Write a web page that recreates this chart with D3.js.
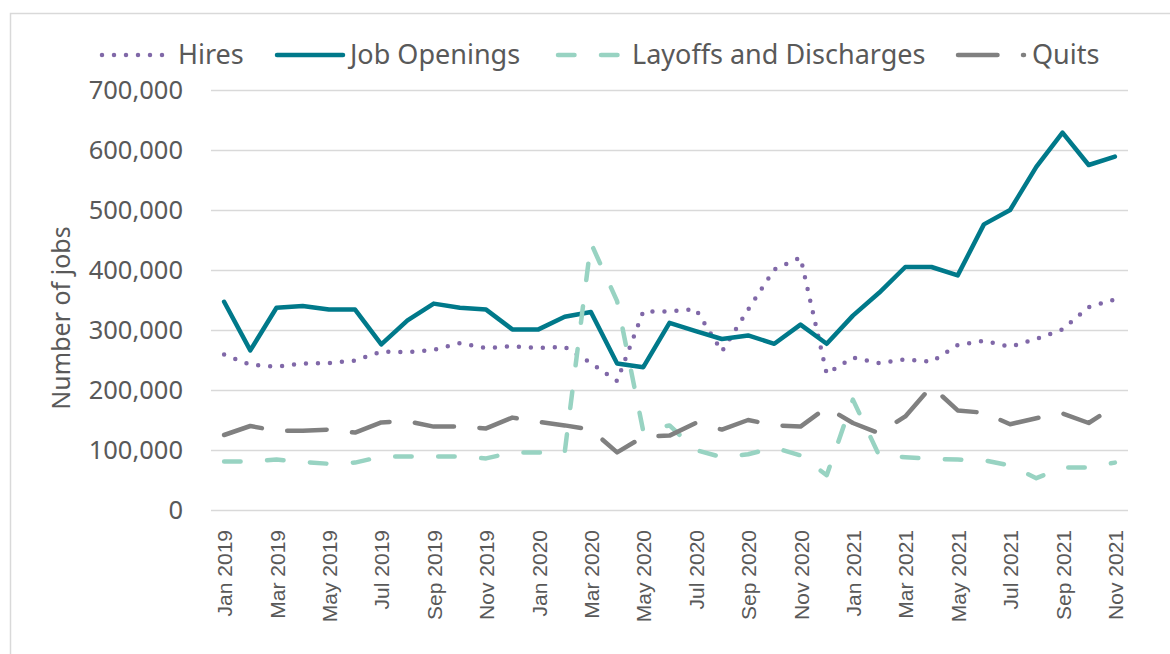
<!DOCTYPE html>
<html>
<head>
<meta charset="utf-8">
<script src="https://cdn.jsdelivr.net/npm/d3@7"></script>
<style>
  html, body { margin: 0; padding: 0; background: #fff; }
  svg { display: block; }
</style>
</head>
<body>
<div id="chart"></div>
<script>
// Monthly values, in thousands of jobs
const months = [
  'Jan 2019', 'Feb 2019', 'Mar 2019', 'Apr 2019', 'May 2019', 'Jun 2019', 'Jul 2019', 'Aug 2019', 'Sep 2019', 'Oct 2019', 'Nov 2019', 'Dec 2019',
  'Jan 2020', 'Feb 2020', 'Mar 2020', 'Apr 2020', 'May 2020', 'Jun 2020', 'Jul 2020', 'Aug 2020', 'Sep 2020', 'Oct 2020', 'Nov 2020', 'Dec 2020',
  'Jan 2021', 'Feb 2021', 'Mar 2021', 'Apr 2021', 'May 2021', 'Jun 2021', 'Jul 2021', 'Aug 2021', 'Sep 2021', 'Oct 2021', 'Nov 2021',
];
const hires = [259, 242, 239, 244, 245, 249, 264, 263, 267, 278, 270, 273, 270, 272, 245, 215, 331, 331, 335, 264, 334, 401, 421, 227, 254, 245, 251, 247, 275, 282, 272, 285, 301, 338, 351];
const jobOpenings = [347, 266, 337, 340, 334, 334, 276, 316, 344, 337, 334, 301, 301, 322, 330, 244, 238, 312, 298, 285, 291, 277, 309, 277, 324, 362, 405, 405, 391, 476, 500, 572, 629, 575, 589];
const layoffs = [81, 81, 84, 80, 77, 79, 89, 89, 89, 89, 86, 96, 96, 96, 445, 348, 131, 141, 100, 88, 93, 104, 91, 58, 184, 91, 88, 85, 84, 83, 74, 53, 71, 71, 79];
const quits = [125, 140, 132, 132, 134, 129, 146, 148, 139, 139, 136, 154, 147, 141, 134, 96, 122, 124, 145, 134, 150, 141, 139, 171, 145, 128, 156, 206, 166, 162, 143, 153, 161, 145, 173];
const yTicks = [0, 100000, 200000, 300000, 400000, 500000, 600000, 700000];
const xTickLabels = months.filter((m, i) => i % 2 === 0);

const W = 1170;
const H = 654;
const textColor = '#595959';
const sansFont = '"Noto Sans", "Open Sans", sans-serif';

const series = [
  { name: 'Hires', values: hires, color: '#8068a8', dash: '0,12', legendX: 102, textX: 178 },
  { name: 'Job Openings', values: jobOpenings, color: '#00798a', dash: null, legendX: 277, textX: 350 },
  { name: 'Layoffs and Discharges', values: layoffs, color: '#98d3c2', dash: '16.5,26.5', legendX: 558, textX: 632 },
  { name: 'Quits', values: quits, color: '#808080', dash: '39.5,25.5', legendX: 958, textX: 1032 },
];

const svg = d3.select('#chart')
  .append('svg')
  .attr('width', W)
  .attr('height', H);

// outer chart frame (cropped at right and bottom)
svg.append('rect')
  .attr('x', 10.5)
  .attr('y', 13.5)
  .attr('width', 1300)
  .attr('height', 800)
  .attr('fill', 'none')
  .attr('stroke', '#d9d9d9')
  .attr('stroke-width', 1.5);

const x = d3.scalePoint()
  .domain(months)
  .range([211, 1128])
  .padding(0.5);

const y = d3.scaleLinear()
  .domain([0, 700000])
  .range([510, 90]);

// gridlines
svg.append('g')
  .attr('transform', 'translate(211,0)')
  .call(d3.axisLeft(y).tickValues(yTicks).tickSize(-(1128 - 211)).tickFormat(''))
  .call((g) => g.select('.domain').remove())
  .call((g) => g.selectAll('line').attr('stroke', '#d9d9d9').attr('stroke-width', 1.5));

// y labels
svg.append('g')
  .attr('transform', 'translate(211,0)')
  .call(d3.axisLeft(y).tickValues(yTicks).tickSize(0).tickPadding(28).tickFormat(d3.format(',')))
  .call((g) => g.select('.domain').remove())
  .call((g) => g.selectAll('text')
    .attr('fill', textColor)
    .style('font-family', sansFont)
    .style('font-size', '25.5px'));

// x labels, every other month, rotated
svg.append('g')
  .attr('transform', 'translate(0,510)')
  .call(d3.axisBottom(x).tickValues(xTickLabels).tickSize(0))
  .call((g) => g.select('.domain').remove())
  .call((g) => g.selectAll('text')
    .attr('fill', textColor)
    .style('font-family', '"Liberation Sans", Arial, sans-serif')
    .style('font-size', '21px')
    .attr('text-anchor', 'end')
    .attr('transform', 'rotate(-90)')
    .attr('x', -20)
    .attr('y', 0)
    .attr('dy', '0.36em'));

// axis title
svg.append('text')
  .attr('transform', 'translate(61,318) rotate(-90)')
  .attr('text-anchor', 'middle')
  .attr('dy', '0.35em')
  .attr('fill', textColor)
  .style('font-family', sansFont)
  .style('font-size', '25px')
  .text('Number of jobs');

const line = d3.line()
  .x((d, i) => x(months[i]))
  .y((d) => y(d * 1000));

svg.selectAll('.series')
  .data(series)
  .enter()
  .append('path')
  .attr('class', 'series')
  .attr('d', (s) => line(s.values))
  .attr('fill', 'none')
  .attr('stroke', (s) => s.color)
  .attr('stroke-width', 4.5)
  .attr('stroke-linecap', 'round')
  .attr('stroke-linejoin', 'round')
  .attr('stroke-dasharray', (s) => s.dash);

// legend
const legend = svg.append('g').attr('class', 'legend');
const items = legend.selectAll('g')
  .data(series)
  .enter()
  .append('g');

items.append('line')
  .attr('x1', (s) => s.legendX)
  .attr('x2', (s) => s.legendX + 66)
  .attr('y1', 55)
  .attr('y2', 55)
  .attr('stroke', (s) => s.color)
  .attr('stroke-width', 4.5)
  .attr('stroke-linecap', 'round')
  .attr('stroke-dasharray', (s) => s.dash);

items.append('text')
  .attr('x', (s) => s.textX)
  .attr('y', 55)
  .attr('dy', '0.35em')
  .attr('fill', textColor)
  .style('font-family', sansFont)
  .style('font-size', '27px')
  .text((s) => s.name);
</script>
</body>
</html>
